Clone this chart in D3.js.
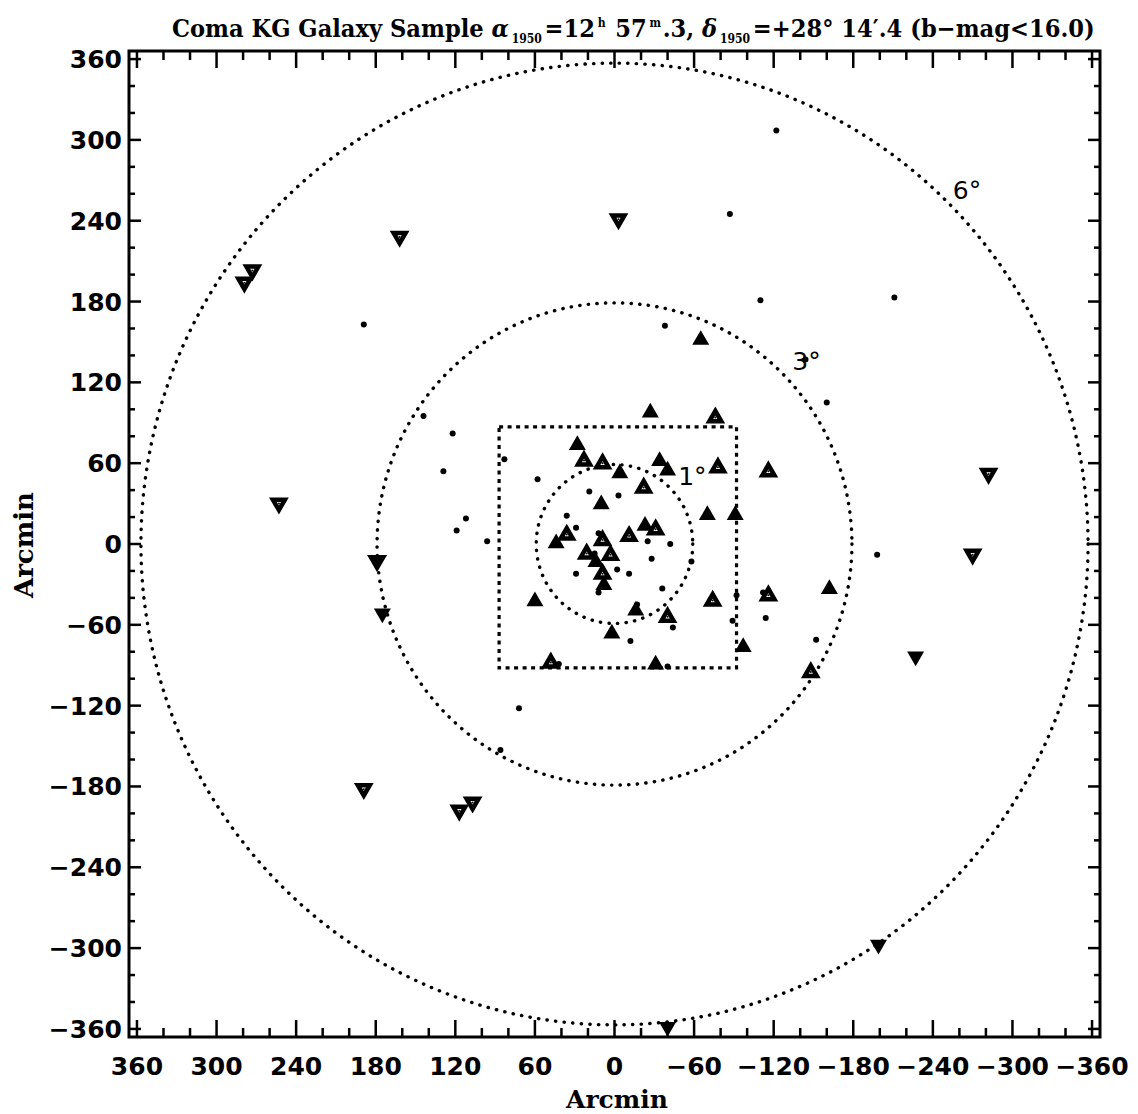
<!DOCTYPE html>
<html><head><meta charset="utf-8">
<script src="https://cdn.jsdelivr.net/npm/d3@7"></script>
<style>body{margin:0;background:#fff}</style>
</head><body>
<svg id="c" width="1138" height="1114"></svg>
<script>
// ---- data (arcmin offsets) ----
const xTicks = [360,300,240,180,120,60,0,-60,-120,-180,-240,-300,-360];
const yTicks = [360,300,240,180,120,60,0,-60,-120,-180,-240,-300,-360];
const ringRadii = [59,179,357];
const ringLabels = ["1°","3°","6°"];
const boxX = [87,-92];
const boxY = [87,-92];
const dots = [[-122,307],[-87,245],[-110,181],[-211,183],[189,163],[-38,162],[-144,137],[-160,105],
 [144,95],[122,82],[83,63],[129,54],[58,48],[19,39],[-3,36],[112,19],[119,10],[96,2],[36,21],[29,12],
 [12,8],[-25,2],[-42,0],[15,-7],[-28,-11],[-58,-13],[-2,-19],[29,-22],[-11,-22],[-36,-33],[12,-36],
 [-17,-45],[-92,-38],[-112,-36],[-114,-55],[-89,-57],[-152,-71],[-44,-62],[-12,-72],[-40,-91],
 [-198,-8],[72,-122],[86,-153],[42,-89]];
const upSolid = [[-65,152],[-27,98],[28,74],[-34,62],[-40,55],[-4,53],[10,30],[-70,22],[-91,22],
 [-23,14],[44,1],[14,-13],[8,-30],[60,-42],[-16,-49],[2,-66],[-97,-76],[-31,-89],[-162,-33]];
const upDotted = [[-76,94],[23,62],[9,60],[-78,57],[-116,54],[-22,42],[-31,11],[36,7],[-11,6],[9,3],
 [21,-7],[3,-8],[9,-22],[-74,-42],[-116,-38],[-40,-54],[48,-88],[-148,-95]];
const downDotted = [[-3,241],[162,228],[273,203],[279,194],[253,30],[-282,52],[-270,-8],[189,-182],[117,-198],[107,-192]];
const downSolid = [[179,-13],[175,-52],[-227,-84],[-199,-298],[-40,-359]];

// ---- scales ----
const x = d3.scaleLinear().domain([366,-366]).range([129,1100]);
const y = d3.scaleLinear().domain([366,-366]).range([51,1037]);
const svg = d3.select("#c");
svg.append("rect").attr("width",1138).attr("height",1114).attr("fill","#fff");

// rings
const g = svg.append("g");
ringRadii.forEach(r=>{
  g.append("ellipse").attr("cx",x(0)).attr("cy",y(0))
   .attr("rx",x(-r)-x(0)).attr("ry",y(-r)-y(0))
   .attr("fill","none").attr("stroke","#000").attr("stroke-width",3.4)
   .attr("stroke-linecap","round").attr("stroke-dasharray","0.3 8.3");
});
// box
g.append("rect").attr("x",x(boxX[0])).attr("y",y(boxY[0]))
 .attr("width",x(boxX[1])-x(boxX[0])).attr("height",y(boxY[1])-y(boxY[0]))
 .attr("fill","none").attr("stroke","#000").attr("stroke-width",3.2).attr("stroke-dasharray","4 4.5");

// ring labels
const ringFont = t => t.attr("font-family","DejaVu Sans").attr("font-size",25).attr("text-anchor","start");
ringFont(svg.append("text").attr("x",x(-48)).attr("y",y(44)).text(ringLabels[0]));
ringFont(svg.append("text").attr("x",x(-134)).attr("y",y(129)).text(ringLabels[1]));
ringFont(svg.append("text").attr("x",x(-255)).attr("y",y(256)).text(ringLabels[2]));

// markers
const tri = (cx,cy,s,up)=>{
  const h = s*0.866;
  if(up) return `M${cx},${cy-h*0.62}L${cx+s/2},${cy+h*0.38}L${cx-s/2},${cy+h*0.38}Z`;
  return `M${cx},${cy+h*0.62}L${cx+s/2},${cy-h*0.38}L${cx-s/2},${cy-h*0.38}Z`;
};
svg.append("g").selectAll("circle").data(dots).join("circle")
  .attr("cx",d=>x(d[0])).attr("cy",d=>y(d[1])).attr("r",3).attr("fill","#000");
svg.append("g").selectAll("path").data(upSolid).join("path")
  .attr("d",d=>tri(x(d[0]),y(d[1]),17,true)).attr("fill","#000");
svg.append("g").selectAll("path").data(downSolid).join("path")
  .attr("d",(d,i)=>tri(x(d[0]),y(d[1]),i===0?20:17,false)).attr("fill","#000");
const gu = svg.append("g").selectAll("g").data(upDotted).join("g");
gu.append("path").attr("d",d=>tri(x(d[0]),y(d[1]),12,true)).attr("fill","#fff").attr("stroke","#000").attr("stroke-width",4.5).attr("stroke-linejoin","miter");
gu.append("circle").attr("cx",d=>x(d[0])).attr("cy",d=>y(d[1])).attr("r",1).attr("fill","#000");
const gd = svg.append("g").selectAll("g").data(downDotted).join("g");
gd.append("path").attr("d",d=>tri(x(d[0]),y(d[1]),12,false)).attr("fill","#fff").attr("stroke","#000").attr("stroke-width",4.5);
gd.append("circle").attr("cx",d=>x(d[0])).attr("cy",d=>y(d[1])).attr("r",1).attr("fill","#000");

// frame
svg.append("rect").attr("x",x(366)).attr("y",y(366)).attr("width",x(-366)-x(366)).attr("height",y(-366)-y(366))
  .attr("fill","none").attr("stroke","#000").attr("stroke-width",3);

// ticks
const minor = d3.range(-360,361,20);
const tk = svg.append("g").attr("stroke","#000").attr("stroke-width",2.5);
minor.forEach(v=>{
  const major = v%60===0;
  const lx = major?17:9, ly = major?12:6;
  tk.append("line").attr("x1",x(v)).attr("x2",x(v)).attr("y1",y(-366)).attr("y2",y(-366)-lx);
  tk.append("line").attr("x1",x(v)).attr("x2",x(v)).attr("y1",y(366)).attr("y2",y(366)+lx);
  tk.append("line").attr("y1",y(v)).attr("y2",y(v)).attr("x1",x(366)).attr("x2",x(366)+ly);
  tk.append("line").attr("y1",y(v)).attr("y2",y(v)).attr("x1",x(-366)).attr("x2",x(-366)-ly);
});
const fmt = d => d<0 ? "\u2212"+(-d) : String(d);
svg.append("g").selectAll("text").data(xTicks).join("text")
  .attr("x",d=>x(d)).attr("y",1075).attr("text-anchor","middle")
  .attr("font-family","DejaVu Sans").attr("font-weight","bold").attr("font-size",25).text(fmt);
svg.append("g").selectAll("text").data(yTicks).join("text")
  .attr("x",122).attr("y",d=>y(d)+9).attr("text-anchor","end")
  .attr("font-family","DejaVu Sans").attr("font-weight","bold").attr("font-size",25).text(fmt);

// axis titles
svg.append("text").attr("x",617).attr("y",1108).attr("text-anchor","middle")
  .attr("font-family","DejaVu Serif").attr("font-weight","bold").attr("font-size",25).text("Arcmin");
svg.append("text").attr("transform","translate(33,545) rotate(-90)").attr("text-anchor","middle")
  .attr("font-family","DejaVu Serif").attr("font-weight","bold").attr("font-size",26).text("Arcmin");

// title (single text element, horizontally condensed to the reference width)
const tg = svg.append("g");
const t = tg.append("text").attr("x",0).attr("y",0)
  .attr("font-family","DejaVu Serif").attr("font-weight","bold").attr("font-size",25);
t.append("tspan").text("Coma KG Galaxy Sample ");
t.append("tspan").attr("font-style","italic").text("\u03b1");
t.append("tspan").attr("font-size",12).attr("dx",3).attr("dy",6).text("1950");
t.append("tspan").attr("dx",3).attr("dy",-6).text("=12");
t.append("tspan").attr("font-size",12).attr("dx",3).attr("dy",-10).text("h");
t.append("tspan").attr("dx",2).attr("dy",10).text(" 57");
t.append("tspan").attr("font-size",12).attr("dx",3).attr("dy",-10).text("m");
t.append("tspan").attr("dx",2).attr("dy",10).text(".3, ");
t.append("tspan").attr("font-style","italic").text("\u03b4");
t.append("tspan").attr("font-size",12).attr("dx",3).attr("dy",6).text("1950");
t.append("tspan").attr("dx",3).attr("dy",-6).text("=+28\u00b0 14\u2032.4 (b\u2212mag<16.0)");
const bb = t.node().getBBox();
const sx = 923/bb.width;
tg.attr("transform",`translate(${172 - bb.x*sx},37) scale(${sx},1)`);
</script>
</body></html>
